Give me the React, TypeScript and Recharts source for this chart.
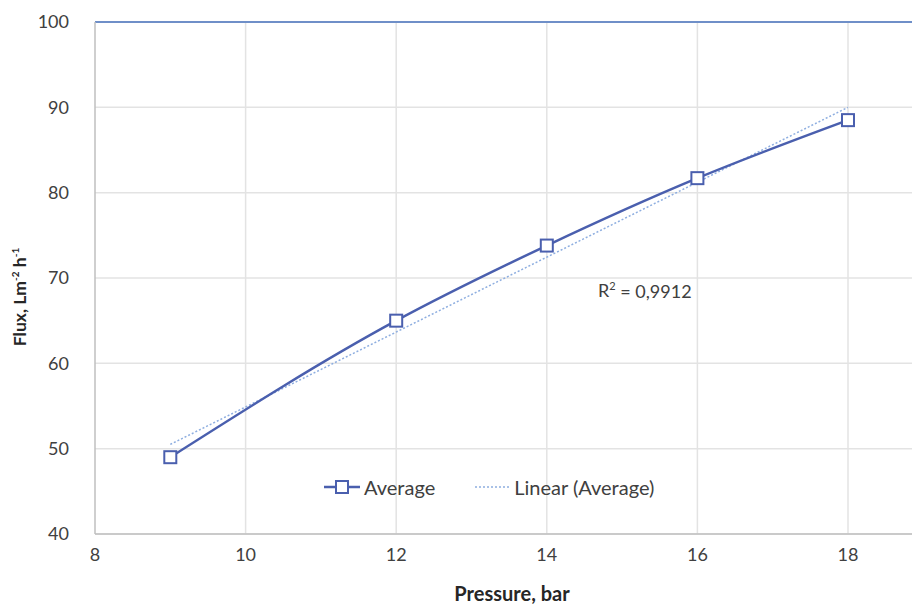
import {
  LineChart,
  Line,
  XAxis,
  YAxis,
  CartesianGrid,
  ReferenceLine,
  ReferenceDot,
} from "recharts";

// measured flux vs. transmembrane pressure
const pressure = [9, 12, 14, 16, 18];
const flux = [49.0, 65.0, 73.8, 81.7, 88.5];

// linear trendline end points
const trendPressure = [9, 18];
const trendFlux = [50.5, 90.0];

const xTicks = [8, 10, 12, 14, 16, 18];
const yTicks = [40, 50, 60, 70, 80, 90, 100];
const rSquared = "0,9912";

const LINE_BLUE = "#4a5fae";
const TREND_BLUE = "#8eaee0";
const GRID = "#e3e3e3";
const FONT = "Lato, 'Open Sans', sans-serif";

const averageData = pressure.map((p, i) => ({ p, flux: flux[i] }));
const trendData = trendPressure.map((p, i) => ({ p, trend: trendFlux[i] }));

const SquareDot = (props: any) => {
  const { cx, cy, index } = props;
  if (cx == null || cy == null) return null;
  return (
    <rect
      key={`dot-${index}`}
      x={cx - 6}
      y={cy - 6}
      width={12}
      height={12}
      fill="#fff"
      stroke={LINE_BLUE}
      strokeWidth={2}
    />
  );
};

const ChartLegend = () => (
  <div
    style={{
      position: "absolute",
      left: 324,
      top: 475,
      display: "flex",
      alignItems: "center",
      fontFamily: FONT,
      fontSize: 20,
      color: "#404040",
      whiteSpace: "nowrap",
    }}
  >
    <svg width={36} height={14}>
      <line x1={0} y1={7} x2={36} y2={7} stroke={LINE_BLUE} strokeWidth={2.5} />
      <rect x={12} y={1} width={12} height={12} fill="#fff" stroke={LINE_BLUE} strokeWidth={2} />
    </svg>
    <span style={{ marginLeft: 4 }}>Average</span>
    <svg width={34} height={14} style={{ marginLeft: 40 }}>
      <line
        x1={0}
        y1={7}
        x2={34}
        y2={7}
        stroke={TREND_BLUE}
        strokeWidth={1.5}
        strokeDasharray="2 2"
      />
    </svg>
    <span style={{ marginLeft: 5 }}>Linear (Average)</span>
  </div>
);

const R2Label = (props: any) => {
  const { viewBox } = props;
  const { x, y } = viewBox;
  return (
    <text x={x} y={y} fontFamily={FONT} fontSize={18} fill="#404040" dominantBaseline="middle">
      R<tspan dy={-6} fontSize={11}>2</tspan>
      <tspan dy={6}> = {rSquared}</tspan>
    </text>
  );
};

const XTitle = (props: any) => {
  const { viewBox } = props;
  return (
    <text
      x={512}
      y={viewBox.y + viewBox.height - 8}
      textAnchor="middle"
      fontFamily={FONT}
      fontSize={20}
      fontWeight={700}
      fill="#262626"
    >
      Pressure, bar
    </text>
  );
};

export default function App() {
  return (
    <div style={{ position: "absolute", left: 0, top: 0, width: 912, height: 609, background: "#fff" }}>
      <LineChart
        width={912}
        height={609}
        margin={{ top: 22, right: 0, bottom: 0, left: 0 }}
      >
        <CartesianGrid stroke={GRID} strokeWidth={1.5} vertical={false} />
        {xTicks.slice(1).map((t) => (
          <ReferenceLine key={t} x={t} stroke={GRID} strokeWidth={1.5} />
        ))}
        <XAxis
          type="number"
          dataKey="p"
          domain={[8, 18.85]}
          ticks={xTicks}
          allowDataOverflow
          height={75}
          stroke="#bfbfbf"
          strokeWidth={1.5}
          tickLine={false}
          tick={{ fill: "#404040", fontSize: 18, fontFamily: FONT }}
          tickMargin={8}
          label={<XTitle />}
        />
        <YAxis
          type="number"
          domain={[40, 100]}
          ticks={yTicks}
          width={95}
          stroke="#bfbfbf"
          strokeWidth={1.5}
          tickLine={false}
          tick={{ fill: "#404040", fontSize: 18, fontFamily: FONT }}
          tickMargin={20}
          label={(p: any) => {
            const cy = 297;
            return (
              <text
                x={22}
                y={cy}
                transform={`rotate(-90, 22, ${cy})`}
                textAnchor="middle"
                dominantBaseline="middle"
                fontFamily={FONT}
                fontSize={17.5}
                fontWeight={700}
                fill="#262626"
              >
                Flux, Lm<tspan dy={-6} fontSize={10}>-2</tspan>
                <tspan dy={6}> h</tspan>
                <tspan dy={-6} fontSize={10}>-1</tspan>
              </text>
            );
          }}
        />
        <ReferenceLine y={100} stroke="#6f8fc8" strokeWidth={2} />
        <Line
          data={trendData}
          dataKey="trend"
          type="linear"
          stroke={TREND_BLUE}
          strokeWidth={1.5}
          strokeDasharray="2 2"
          dot={false}
          activeDot={false}
          isAnimationActive={false}
        />
        <Line
          data={averageData}
          dataKey="flux"
          type="monotone"
          stroke={LINE_BLUE}
          strokeWidth={2.5}
          dot={<SquareDot />}
          activeDot={false}
          isAnimationActive={false}
        />
        <ReferenceDot x={14.68} y={68.3} r={0} label={<R2Label />} />
      </LineChart>
      <ChartLegend />
    </div>
  );
}
